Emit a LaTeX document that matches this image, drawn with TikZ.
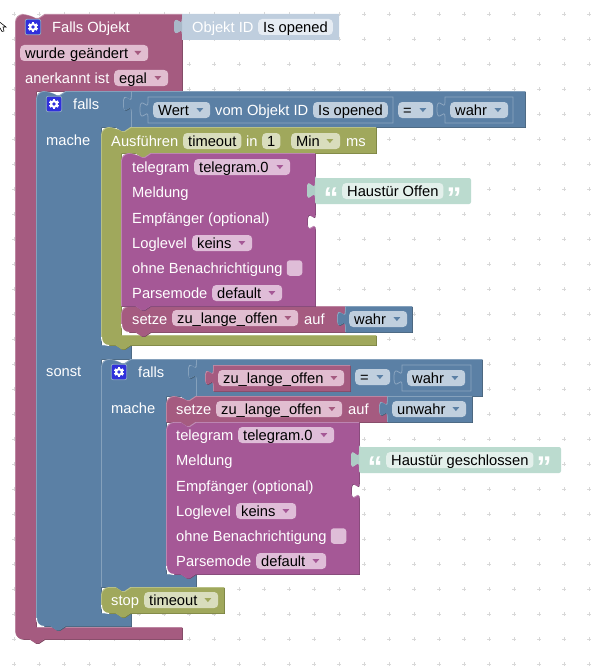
\documentclass[tikz,border=0pt]{standalone}
\usepackage{fontspec}
\setmainfont{Liberation Sans}
\usetikzlibrary{positioning}

\definecolor{pinkblk}{HTML}{A55B80}
\definecolor{pinkblkdark}{HTML}{7C4460}
\definecolor{pinkblklight}{HTML}{C08CA6}
\definecolor{pinkblkfield}{HTML}{E1BDD0}
\definecolor{blueblk}{HTML}{5B80A5}
\definecolor{blueblkdark}{HTML}{446078}
\definecolor{blueblklight}{HTML}{8CA6C0}
\definecolor{blueblkfield}{HTML}{C0CFDE}
\definecolor{oliveblk}{HTML}{A0A85C}
\definecolor{oliveblkdark}{HTML}{78803E}
\definecolor{oliveblklight}{HTML}{BCC48C}
\definecolor{oliveblkfield}{HTML}{D9DDBD}
\definecolor{purpblk}{HTML}{A55896}
\definecolor{purpblkdark}{HTML}{7C4271}
\definecolor{purpblklight}{HTML}{C08CB6}
\definecolor{purpblkfield}{HTML}{DFBDD8}
\definecolor{idblk}{HTML}{BFCEDE}
\definecolor{idtab}{HTML}{A8B8C8}
\definecolor{idfield}{HTML}{E6ECF3}
\definecolor{textblk}{HTML}{BBDBCF}
\definecolor{texttab}{HTML}{AECDC6}
\definecolor{textfield}{HTML}{E3F0EB}
\definecolor{gridplus}{HTML}{D8D8D8}
\definecolor{gearblue}{HTML}{3030DC}

% block edges: notch and puzzle tab
\def\notchR{ -- ++(6,4) -- ++(3,0) -- ++(6,-4) }
\def\notchL{ -- ++(-6,4) -- ++(-3,0) -- ++(-6,-4) }
\def\tabdown{ -- ++(0,5) .. controls +(0,10) and +(0,-15.5) .. ++(-8,7.5) .. controls +(0,15.5) and +(0,-10) .. ++(8,7.5) }
\def\tabup{ .. controls +(0,-10) and +(0,15.5) .. ++(-8,-7.5) .. controls +(0,-15.5) and +(0,10) .. ++(8,-7.5) -- ++(0,-5) }

% dark edge, light edge, then the face of the block
\newcommand{\blockshape}[2]{%
  \fill[#1dark,shift={(0.8,0.8)}] #2;
  \fill[#1light] #2;
  \begin{scope}
    \clip #2;
    \fill[#1,shift={(0.8,0.8)}] #2;
  \end{scope}
}
% white rim under a rounded bottom left corner
\newcommand{\cornerrim}[2]{%
  \draw[white, line width=1pt] (#1+0.5,#2-8) .. controls (#1+0.5,#2-3) and (#1+3,#2+0.5) .. (#1+8,#2+0.5);
}
% name, colour, left x, centre y, width, text
\newcommand{\dropfield}[6]{%
  \node[field,fill=#2field,text width={#5pt-10pt}] (#1) at (#3,#4) {#6};
  \fill[#2] (#1.east) ++(-14,-2) -- ++(7,0) -- ++(-3.5,4) -- cycle;
}

\begin{document}
\begin{tikzpicture}[
    x=1pt, y=-1pt,
    lbl/.style={anchor=west, inner sep=0pt, text=white, text height=13pt, text depth=2.7pt,
        font=\fontsize{14.7}{16}\selectfont},
    field/.style={anchor=west, inner xsep=5pt, inner ysep=0pt, text=black, rounded corners=4pt,
        minimum height=16pt, text height=13pt, text depth=2.7pt, align=left,
        font=\fontsize{14.7}{16}\selectfont},
    quotemark/.style={anchor=center, inner sep=0pt, text=white,
        font=\fontsize{30}{30}\selectfont\bfseries\rmfamily},
    iconbox/.style={draw=blueblklight, fill=gearblue, line width=0.8pt, rounded corners=2pt,
        minimum size=15.5pt, inner sep=0pt},
    checkbox/.style={fill=purpblkfield, rounded corners=3pt, minimum size=15.5pt, inner sep=0pt},
    inset/.style={draw=blueblklight, line width=0.8pt},
    gear/.pic={
        \foreach \ang in {0,60,...,300}
            \fill[white,rotate=\ang] (-1.3,-5) rectangle (1.3,0);
        \fill[white] (0,0) circle (4);
        \fill[gearblue] (0,0) circle (1.9);
    }
]
\useasboundingbox (0,0) rectangle (592,669);

% dotted workspace
\foreach \gx in {14,39,...,589}
    \foreach \gy in {14,39,...,664}
        \draw[gridplus, line width=0.7pt] (\gx,\gy) ++(-2,0) -- ++(4,0) ++(-2,-2) -- ++(0,4);

% mouse pointer
\draw[black, fill=white, line width=0.6pt] (-3,20) -- (6,27) -- (3,27) -- (4,31) -- (2,31.5) -- (0,28) -- (-3,30) -- cycle;

% trigger block
\blockshape{pinkblk}{(15,300) [rounded corners=8pt] -- (15,14) -- (29.5,14) [sharp corners] \notchR -- (182,14) -- (182,91)
    -- (36,91) -- (36,627) -- (182,627) -- (182,639) -- (44.5,639) \notchL -- (29.5,639) [rounded corners=8pt] -- (15,639) -- cycle}
\fill[idblk] (182,14) -- (339,14) -- (339,40) -- (182,40) -- (182,34) \tabup -- cycle;
\fill[idtab] (182,14) \tabdown -- cycle;

\node[iconbox] (icontrigger) at (33,27) {};
\pic at (icontrigger) {gear};
\node[lbl] (fallsobjekt) at (52,27) {Falls Objekt};
\node[lbl] (objektid) at (192,27) {Objekt ID};
\node[field,fill=idfield] (isopened) at (258,27) {Is opened};
\dropfield{changed}{pinkblk}{20}{53}{128}{wurde geändert}
\node[lbl] (anerkannt) at (25,78) {anerkannt ist};
\dropfield{egal}{pinkblk}{114}{78}{54}{egal}

% outer if / else
\blockshape{blueblk}{(36,300) [rounded corners=8pt] -- (36,91) -- (50.5,91) [sharp corners] \notchR -- (525,91) -- (525,127)
    -- (130.5,127) \notchL -- (101,127) -- (101,345) -- (131,345) -- (131,359) -- (101,359) -- (101,613) -- (131,613) -- (131,626)
    -- (65.5,626) \notchL -- (50.5,626) [rounded corners=8pt] -- (36,626) -- cycle}
\cornerrim{36}{626}
\blockshape{blueblk}{(131,91) -- (525,91) -- (525,127) -- (131,127) -- (131,111) \tabup -- cycle}
\draw[inset, fill=blueblk] (148,97) -- (393,97) -- (393,123) -- (148,123) -- (148,117) \tabup -- cycle;
\draw[inset, fill=blueblk] (445,97) -- (513,97) -- (513,123) -- (445,123) -- (445,117) \tabup -- cycle;

\node[iconbox] (iconfalls) at (54,104) {};
\pic at (iconfalls) {gear};
\node[lbl] (fallsa) at (73,104) {falls};
\node[lbl] (machea) at (46,140) {mache};
\node[lbl] (sonst) at (46,371) {sonst};
\dropfield{wert}{blueblk}{153}{110}{57}{Wert}
\node[lbl] (vomobjekt) at (215,110) {vom Objekt ID};
\node[field,fill=blueblkfield] (isopenedb) at (313,110) {Is opened};
\dropfield{eqa}{blueblk}{398}{110}{35}{=}
\dropfield{wahra}{blueblk}{450}{110}{58}{wahr}

% timeout
\blockshape{oliveblk}{(101,300) [rounded corners=8pt] -- (101,127) -- (115.5,127) [sharp corners] \notchR -- (376,127) -- (376,153)
    -- (150.5,153) \notchL -- (121,153) -- (121,335) -- (376,335) -- (376,345) -- (130.5,345) \notchL -- (115.5,345) [rounded corners=8pt] -- (101,345) -- cycle}
\cornerrim{101}{345}
\node[lbl] (ausfuehren) at (111,141) {Ausführen};
\node[field,fill=oliveblkfield] (timeoutname) at (183,141) {timeout};
\node[lbl] (inlabel) at (246,141) {in};
\node[field,fill=oliveblkfield] (timeoutval) at (262,141) {1};
\dropfield{timeoutunit}{oliveblk}{291}{141}{49}{Min}
\node[lbl] (mslabel) at (346,141) {ms};

% set variable below the first message
\blockshape{pinkblk}{(121,306) -- (135.5,306) \notchR -- (345,306) -- (345,332) -- (150.5,332) \notchL -- (135.5,332) [rounded corners=8pt] -- (121,332) -- cycle}
\cornerrim{121}{332}
\blockshape{blueblk}{(345,306) -- (412,306) -- (412,332) -- (345,332) -- (345,326) \tabup -- cycle}
\node[lbl] (setzea) at (132,319) {setze};
\dropfield{vara}{pinkblk}{172}{318}{126}{zu\_lange\_offen}
\node[lbl] (aufa) at (304,319) {auf};
\dropfield{wahrb}{blueblk}{349}{319}{58}{wahr}

% inner if
\blockshape{blueblk}{(101,450) [rounded corners=8pt] -- (101,359) -- (115.5,359) [sharp corners] \notchR -- (482,359) -- (482,396)
    -- (195.5,396) \notchL -- (166,396) -- (166,574) -- (196,574) -- (196,587) -- (130.5,587) \notchL -- (101,587) -- cycle}
\blockshape{blueblk}{(196,359) -- (482,359) -- (482,396) -- (196,396) -- (196,379) \tabup -- cycle}
\blockshape{pinkblk}{(213,365) -- (350,365) -- (350,391) -- (213,391) -- (213,385) \tabup -- cycle}
\draw[inset, fill=blueblk] (402,365) -- (471,365) -- (471,391) -- (402,391) -- (402,385) \tabup -- cycle;

\node[iconbox] (iconfallsb) at (119,372) {};
\pic at (iconfallsb) {gear};
\node[lbl] (fallsb) at (138,372) {falls};
\node[lbl] (macheb) at (111,408) {mache};
\dropfield{varb}{pinkblk}{218}{378}{126}{zu\_lange\_offen}
\dropfield{eqb}{blueblk}{355}{377}{35}{=}
\dropfield{wahrc}{blueblk}{407}{378}{58}{wahr}

% set variable above the second message
\blockshape{pinkblk}{(166,410) [rounded corners=8pt] -- (166,396) -- (180.5,396) [sharp corners] \notchR -- (387,396) -- (387,422) -- (195.5,422) \notchL -- (166,422) -- cycle}
\blockshape{blueblk}{(387,396) -- (472,396) -- (472,422) -- (387,422) -- (387,416) \tabup -- cycle}
\node[lbl] (setzeb) at (176,409) {setze};
\dropfield{varc}{pinkblk}{216}{409}{126}{zu\_lange\_offen}
\node[lbl] (aufb) at (348,409) {auf};
\dropfield{unwahr}{blueblk}{392}{409}{74}{unwahr}

% message blocks
\blockshape{purpblk}{(121,200) [rounded corners=8pt] -- (121,153) -- (135.5,153) [sharp corners] \notchR -- (315,153) -- (315,209) \tabdown -- (315,306)
    -- (150.5,306) \notchL -- (121,306) -- cycle}
\blockshape{purpblk}{(166,422) -- (180.5,422) \notchR -- (359,422) -- (359,478) \tabdown -- (359,574)
    -- (195.5,574) \notchL -- (180.5,574) [rounded corners=8pt] -- (166,574) -- cycle}
\cornerrim{166}{574}
\foreach \dx/\dy/\nm in {0/0/a, 44/268/b} {
    \begin{scope}[shift={(\dx,\dy)}]
        \node[lbl] (telegram\nm) at (132,167) {telegram};
        \dropfield{instance\nm}{purpblk}{194}{167}{96}{telegram.0}
        \node[lbl] (meldung\nm) at (132,192) {Meldung};
        \node[lbl] (empfaenger\nm) at (132,218) {Empfänger (optional)};
        \node[lbl] (loglevel\nm) at (132,243) {Loglevel};
        \dropfield{keins\nm}{purpblk}{192}{243}{60}{keins}
        \node[lbl] (ohne\nm) at (132,268) {ohne Benachrichtigung};
        \node[checkbox] (silent\nm) at (294.5,268) {};
        \node[lbl] (parsemode\nm) at (132,293) {Parsemode};
        \dropfield{parse\nm}{purpblk}{212}{293}{70}{default}
    \end{scope}
}

% text values
\fill[textblk, rounded corners=2pt] (315,178) -- (471,178) -- (471,204) -- (315,204) -- (315,198) \tabup -- cycle;
\fill[texttab] (315,178) \tabdown -- cycle;
\node[quotemark] (openA) at (331,198) {“};
\node[field,fill=textfield] (textA) at (342,191) {Haustür Offen};
\node[quotemark] (closeA) at (454,198) {”};
\fill[textblk, rounded corners=2pt] (359,447) -- (561,447) -- (561,473) -- (359,473) -- (359,467) \tabup -- cycle;
\fill[texttab] (359,447) \tabdown -- cycle;
\node[quotemark] (openB) at (375,467) {“};
\node[field,fill=textfield] (textB) at (386,460) {Haustür geschlossen};
\node[quotemark] (closeB) at (544,467) {”};

% stop timeout
\blockshape{oliveblk}{(101,587) -- (115.5,587) \notchR -- (224,587) -- (224,613) -- (130.5,613) \notchL -- (115.5,613) [rounded corners=8pt] -- (101,613) -- cycle}
\cornerrim{101}{613}
\node[lbl] (stoplabel) at (111,600) {stop};
\dropfield{stopname}{oliveblk}{144}{600}{74}{timeout}

\end{tikzpicture}
\end{document}
